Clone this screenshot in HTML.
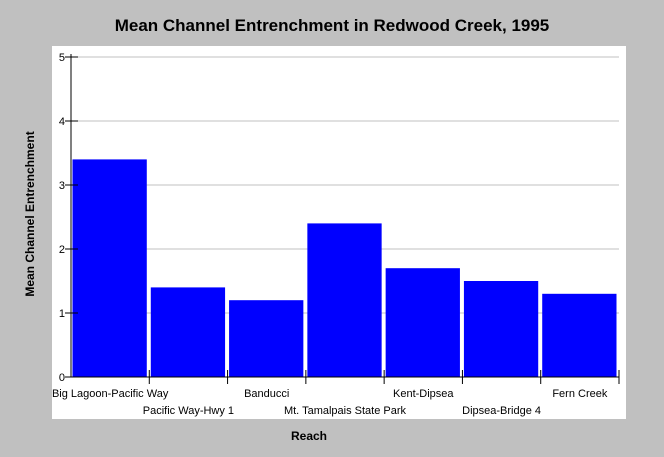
<!DOCTYPE html>
<html><head><meta charset="utf-8"><style>
body{margin:0;background:#c0c0c0;}
svg{display:block;font-family:"Liberation Sans",sans-serif;}
</style></head><body>
<svg width="664" height="457">
<rect x="0" y="0" width="664" height="457" fill="#c0c0c0"/>
<rect x="52" y="46" width="574" height="373" fill="#fff"/>
<text x="332" y="31" text-anchor="middle" font-size="17" font-weight="bold">Mean Channel Entrenchment in Redwood Creek, 1995</text>
<text transform="translate(34,214) rotate(-90)" text-anchor="middle" font-size="12" font-weight="bold">Mean Channel Entrenchment</text>
<text x="309" y="440" text-anchor="middle" font-size="12" font-weight="bold">Reach</text>
<g id="grid"></g><g id="bars"></g><g id="axes"></g>
</svg>
<script>
const categories=["Big Lagoon-Pacific Way","Pacific Way-Hwy 1","Banducci","Mt. Tamalpais State Park","Kent-Dipsea","Dipsea-Bridge 4","Fern Creek"];
const values=[3.4,1.4,1.2,2.4,1.7,1.5,1.3];
const yTicks=[0,1,2,3,4,5];
const NS="http://www.w3.org/2000/svg";
const x0=71,x1=619,y0=377,yTop=57,yMax=5;
const bw=(x1-x0)/categories.length;
const y=v=>y0-(v/yMax)*(y0-yTop);
const X=i=>x0+i*bw;
function mk(t,a,p){const e=document.createElementNS(NS,t);for(const k in a)e.setAttribute(k,a[k]);p.appendChild(e);return e;}
const grid=document.getElementById('grid'),bars=document.getElementById('bars'),axes=document.getElementById('axes');
yTicks.forEach(t=>{
 if(t>0){const g=mk('line',{x1:x0,x2:x1,y1:y(t),y2:y(t),stroke:'#c0c0c0'},grid);
 
 }
 const tk=mk('line',{x1:x0-6,x2:x0+7,y1:y(t),y2:y(t),stroke:'#000'},axes);
 
 
 const l=mk('text',{x:x0-6,y:y(t)+4,'text-anchor':'end','font-size':'11'},axes);l.textContent=t;
 
 
});
values.forEach((v,i)=>{
 const r=mk('rect',{x:X(i)+1.5,y:y(v),width:bw-4,height:y0-y(v),fill:'#0000ff'},bars);
 
 
});
mk('line',{x1:x0,x2:x0,y1:yTop-3,y2:y0,stroke:'#000'},axes);
mk('line',{x1:x0,x2:x1,y1:y0,y2:y0,stroke:'#000'},axes);
categories.forEach((c,i)=>{
 const tk=mk('line',{x1:X(i+1),x2:X(i+1),y1:y0-7,y2:y0+7,stroke:'#000'},axes);
 
 
 const l=mk('text',{x:X(i)+bw/2,y:i%2?414:397,'text-anchor':'middle','font-size':'11'},axes);l.textContent=c;
 
 
});
</script>
</body></html>
